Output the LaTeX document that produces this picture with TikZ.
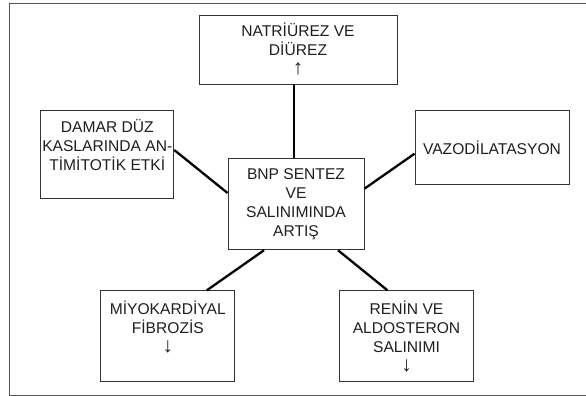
\documentclass[tikz,border=0pt]{standalone}
\usepackage{fontspec}
\setmainfont{Liberation Sans}
\usetikzlibrary{positioning,calc}
\definecolor{bxgray}{HTML}{333333}
\definecolor{txgray}{HTML}{1F1F1F}
\definecolor{frgray}{HTML}{555555}
\newcommand{\bigarr}[1]{{\fontsize{21}{19}\selectfont #1}}

\begin{document}
\begin{tikzpicture}[
  x=1pt, y=-1pt,
  box/.style={draw=bxgray, line width=0.9pt, fill=white, inner sep=0pt,
              font=\fontsize{15.6}{19}\selectfont, align=center, text=txgray},
  link/.style={black, line width=2.3pt},
]
\useasboundingbox (0,0) rectangle (586,396);

%% Outer frame
\draw[frgray, line width=1pt] (9,4) rectangle (592,395);

%% Centre: BNP
\node[box, minimum width=136pt, minimum height=91pt] (bnp) at (296,204.3)
  {BNP SENTEZ\\VE\\SALINIMINDA\\ARTIŞ};

%% Surrounding effects
\node[box, minimum width=198pt, minimum height=69pt]  (natri) at (298,49.5)
  {NATRİÜREZ VE\\DİÜREZ\\\bigarr{↑}};
\node[box, minimum width=133pt, minimum height=88pt]  (damar) at (107.3,154.7)
  {DAMAR DÜZ\\KASLARINDA AN-\\TİMİTOTİK ETKİ\\\mbox{}};
\node[box, minimum width=154pt, minimum height=74pt]  (vazo) at (492,147.7)
  {VAZODİLATASYON};
\node[box, minimum width=134pt, minimum height=91pt]  (miyo) at (167.8,336.3)
  {MİYOKARDİYAL\\FİBROZİS\\\bigarr{↓}\\\mbox{}};
\node[box, minimum width=134pt, minimum height=91pt]  (renin) at (406.5,336.3)
  {RENİN VE\\ALDOSTERON\\SALINIMI\\\bigarr{↓}};

%% Links from the centre
\draw[link] ([xshift=-2.3pt]bnp.north) -- ([xshift=-2.3pt]bnp.north |- natri.south);
\draw[link] ([yshift=4.7pt]damar.east) -- ([yshift=11.3pt]bnp.west);
\draw[link] ([yshift=-6pt]vazo.west)   -- ([yshift=15.6pt]bnp.east);
\draw[link] ([xshift=-32pt]bnp.south)  -- ([xshift=39pt]miyo.north);
\draw[link] ([xshift=42pt]bnp.south)   -- ([xshift=-19pt]renin.north);

\end{tikzpicture}
\end{document}
